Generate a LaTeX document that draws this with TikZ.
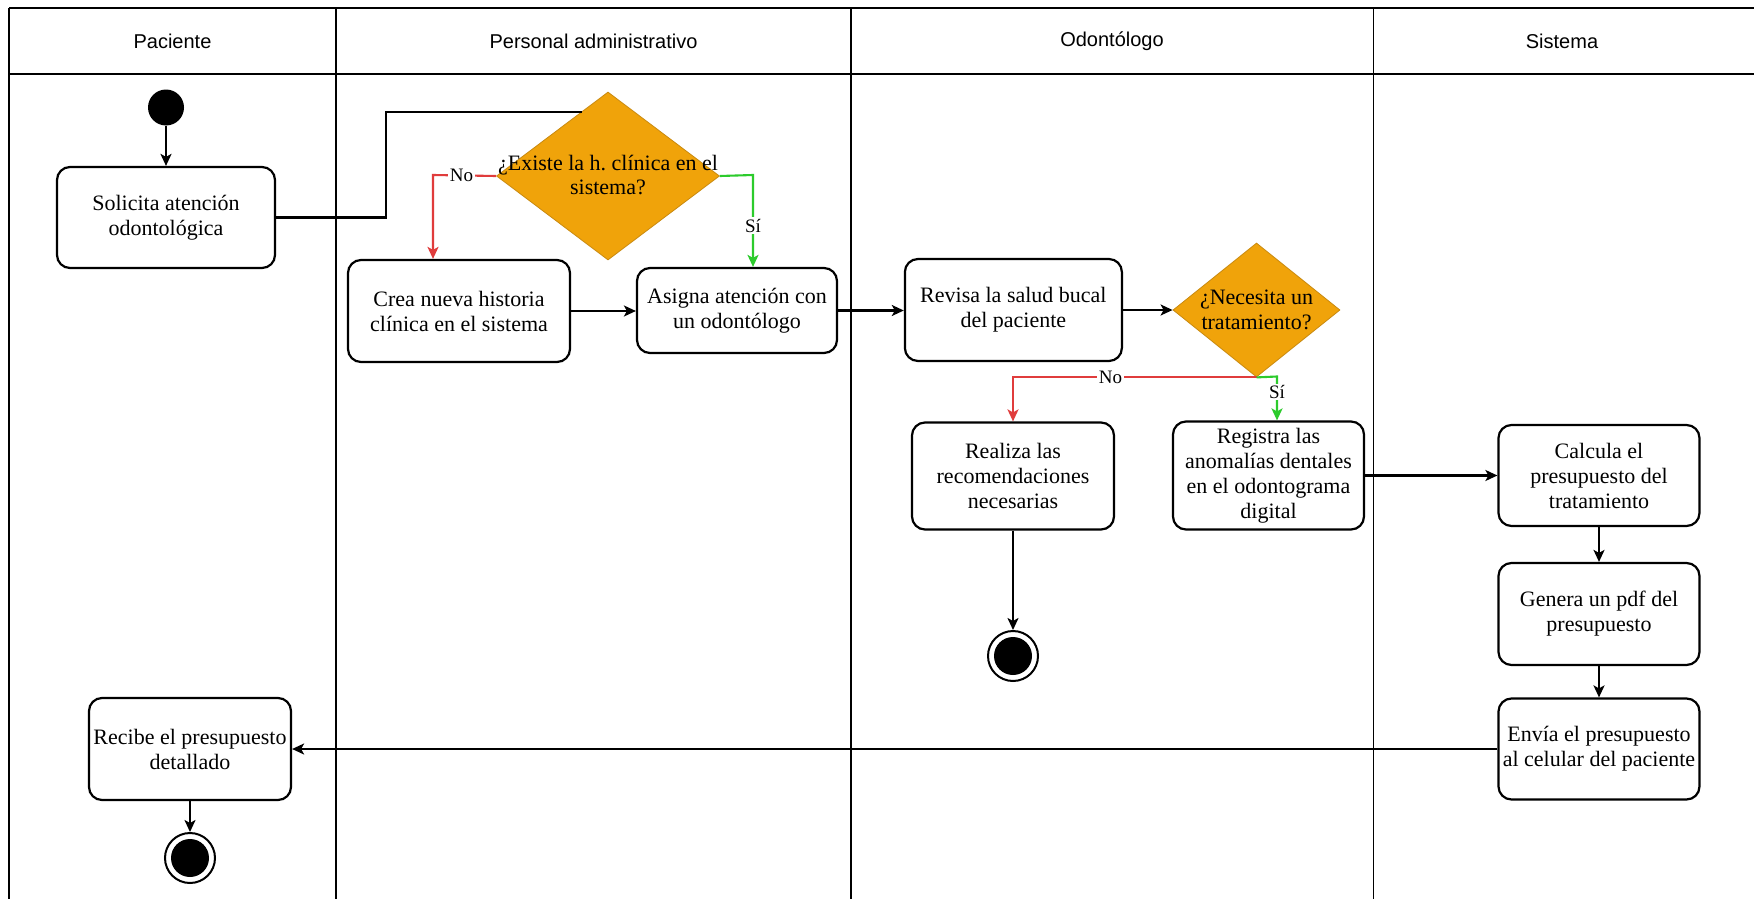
\documentclass[tikz,border=0pt]{standalone}
\usepackage{fontspec}
\setmainfont{Liberation Serif}
\newfontfamily\lanefont{Liberation Sans}
\usetikzlibrary{shapes.geometric,arrows.meta}
\definecolor{decfill}{HTML}{F0A30A}
\definecolor{decline}{HTML}{C98A10}
\definecolor{nored}{HTML}{E03C3C}
\definecolor{sigreen}{HTML}{2CCB2C}
\tikzset{
  lane/.style={line width=1.9pt},
  head/.style={font=\lanefont\fontsize{20}{20}\selectfont},
  act/.style={draw, line width=2.2pt, rounded corners=13pt, fill=white,
    align=center, inner sep=0pt, font=\fontsize{22}{25}\selectfont},
  dec/.style={diamond, draw=decline, fill=decfill, line width=0.8pt, inner sep=0pt},
  dectext/.style={align=center, inner sep=0pt, font=\fontsize{22}{24.6}\selectfont},
  flow/.style={line width=2.1pt, -{Stealth[length=12pt,width=11pt,inset=3pt]}},
  plainline/.style={line width=2.1pt},
  guard/.style={fill=white, inner sep=1.5pt, text=black, font=\fontsize{19}{19}\selectfont},
  startdot/.style={circle, fill=black, minimum size=36pt, inner sep=0pt},
  enddot/.style={circle, draw, line width=2pt, fill=white, minimum size=50pt,
    inner sep=0pt, path picture={\fill[black] (path picture bounding box.center) circle (19pt);}}
}
\begin{document}
\begin{tikzpicture}[x=1pt, y=-1pt]
\useasboundingbox (0,0) rectangle (1754,899);
\fill[white] (0,0) rectangle (1754,899);

% swimlane grid
\draw[lane] (9,8) -- (1754,8);
\draw[lane] (9,74) -- (1754,74);
\foreach \x in {9,336,851,1373.5} \draw[lane] (\x,8) -- (\x,899);

% lane titles
\node[head] (hpac) at (172.5,41) {Paciente};
\node[head] (hadm) at (593.5,41) {Personal administrativo};
\node[head] (hodo) at (1112,41) {Odontólogo};
\node[head] (hsis) at (1562,41) {Sistema};

% decisions
\node[dec, minimum width=223pt, minimum height=168pt] (d1) at (608,176) {};
\node[dectext] (d1t) at (608,175) {¿Existe la h.\ clínica en el\\sistema?};
\node[dec, minimum width=167pt, minimum height=134pt] (d2) at (1256.5,310) {};
\node[dectext] (d2t) at (1256.5,310) {¿Necesita un\\tratamiento?};

% activities
\node[startdot] (start) at (166,107.5) {};
\node[act, minimum width=218pt, minimum height=101pt] (sol) at (166,217.5) {Solicita atención\\odontológica};
\node[act, minimum width=222pt, minimum height=102pt] (crea) at (459,311) {Crea nueva historia\\clínica en el sistema};
\node[act, minimum width=200pt, minimum height=85pt] (asig) at (737,310.5) {Asigna atención con\\un odontólogo};
\node[act, minimum width=217pt, minimum height=102pt] (rev) at (1013.4,310) {Revisa la salud bucal\\del paciente};
\node[act, minimum width=202pt, minimum height=107pt] (real) at (1013,476) {Realiza las\\recomendaciones\\necesarias};
\node[act, minimum width=191pt, minimum height=108pt] (reg) at (1268.5,475.5) {Registra las\\anomalías dentales\\en el odontograma\\digital};
\node[act, minimum width=201pt, minimum height=101pt] (calc) at (1599,475.5) {Calcula el\\presupuesto del\\tratamiento};
\node[act, minimum width=201pt, minimum height=102pt] (gen) at (1599,614) {Genera un pdf del\\presupuesto};
\node[act, minimum width=201pt, minimum height=101pt] (env) at (1599,749) {Envía el presupuesto\\al celular del paciente};
\node[act, minimum width=202pt, minimum height=102pt] (rec) at (190,749) {Recibe el presupuesto\\detallado};
\node[enddot] (end2) at (1013,656) {};
\node[enddot] (end1) at (190,858) {};

% bend points of the routed connectors
\coordinate (solturn) at (386,217.5);
\coordinate (d1in) at (581.8,111.7);
\coordinate (noturn) at (433,175);
\coordinate (siturn) at (753,175);
\coordinate (siturn2) at (1277,376.5);

% connectors
\draw[flow] (start) -- (sol);
\draw[plainline] (sol.east) -- (solturn) |- (d1in);
\draw[flow, draw=nored] (d1.west) -- node[guard, pos=0.55] {No} (noturn) -- (noturn |- crea.north);
\draw[flow, draw=sigreen] (d1.east) -- (siturn) -- node[guard, pos=0.55] {Sí} (siturn |- asig.north);
\draw[flow] (crea.east) -- (crea.east -| asig.west);
\draw[flow] (asig.east) -- (asig.east -| rev.west);
\draw[flow] (rev.east) -- (rev.east -| d2.west);
\draw[flow, draw=nored] (d2.south) -| node[guard, pos=0.3] {No} (real.north);
\draw[flow, draw=sigreen] (d2.south) -- (siturn2) -- node[guard, pos=0.35] {Sí} (siturn2 |- reg.north);
\draw[flow] (real.south) -- (end2.north);
\draw[flow] (reg.east) -- (reg.east -| calc.west);
\draw[flow] (calc.south) -- (gen.north);
\draw[flow] (gen.south) -- (env.north);
\draw[flow] (env.west) -- (env.west -| rec.east);
\draw[flow] (rec.south) -- (end1.north);
\end{tikzpicture}
\end{document}
